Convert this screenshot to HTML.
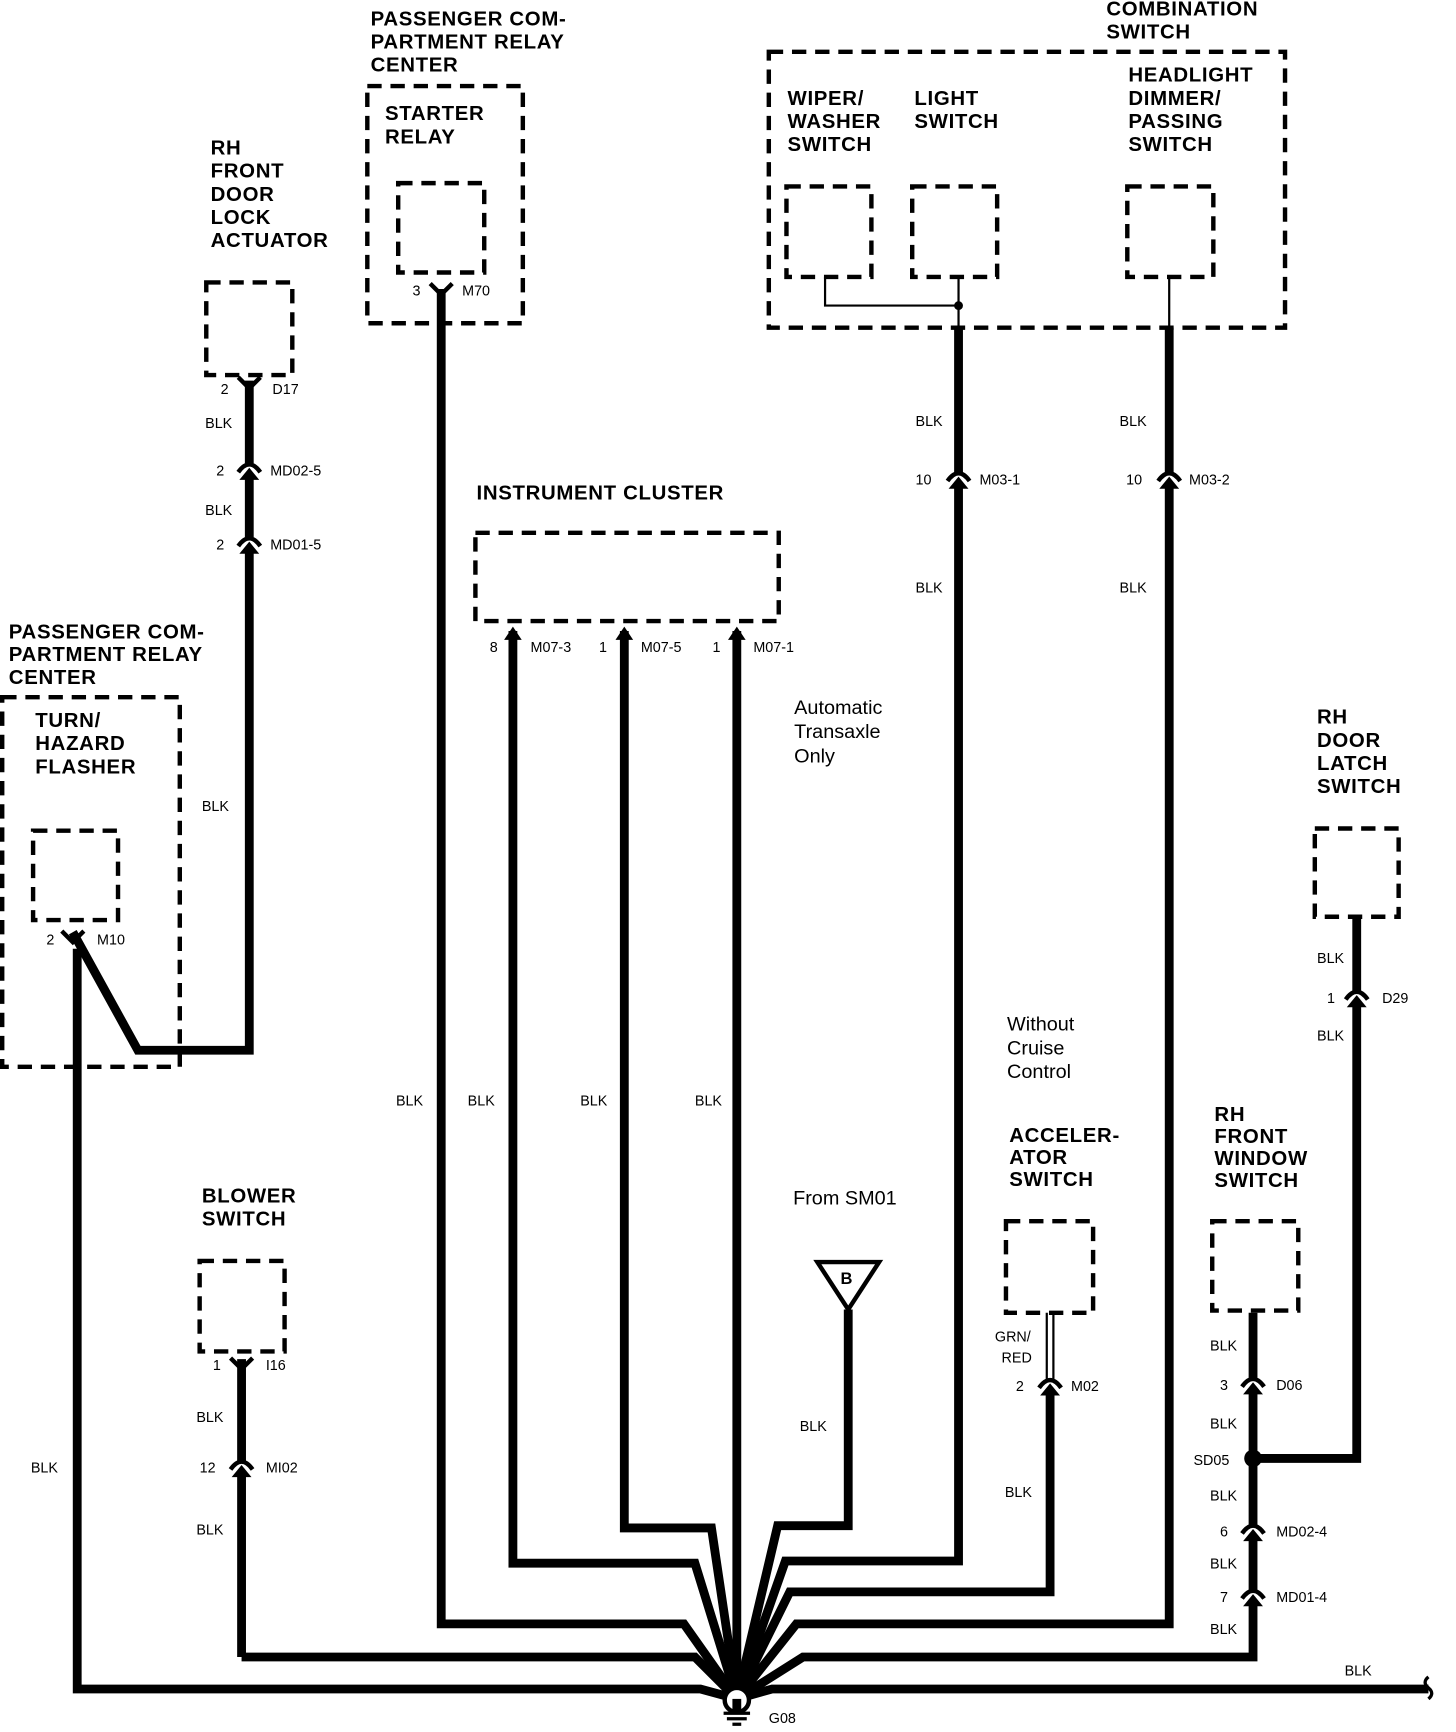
<!DOCTYPE html>
<html><head><meta charset="utf-8"><style>
html,body{margin:0;padding:0;background:#fff}
svg{display:block}
.t{font-family:"Liberation Sans",sans-serif;font-weight:bold;font-size:18.5px;letter-spacing:0.6px;fill:#000}
.s{font-family:"Liberation Sans",sans-serif;font-size:13px;fill:#000}
.n{font-family:"Liberation Sans",sans-serif;font-size:18px;fill:#000}
.box{fill:none;stroke:#000;stroke-width:4;stroke-dasharray:13 8}
.w{fill:none;stroke:#000;stroke-width:8;stroke-linejoin:miter}
</style></head><body>
<svg width="1456" height="1732" viewBox="0 0 1320 1570" preserveAspectRatio="none" xmlns="http://www.w3.org/2000/svg">
<defs>
<g id="c"><rect x="-7" y="-6" width="14" height="10" fill="#fff"/><path d="M-10 2 Q0 -12 10 2" stroke="#000" stroke-width="4" fill="none"/><polygon points="-9,9 0,-2 9,9" fill="#000"/></g>
<g id="f"><path d="M-10 -8 L0 2 L10 -8" stroke="#000" stroke-width="4" fill="none"/></g>
<g id="m"><polygon points="-8,10 0,-2 8,10" fill="#000"/></g>
</defs>
<path class="w" d="M226 345 V952 H125 L66 845"/>
<path class="w" d="M70 860 V1531 H635 L668 1540 L700 1531 H1295"/>
<path class="w" d="M219 1502 V1232 M219 1502 H630 L668 1540"/>
<path class="w" d="M400 262 V1472 H620 L668 1540"/>
<path class="w" d="M465 572 V1417 H630 L668 1540"/>
<path class="w" d="M566 572 V1385 H645 L668 1540"/>
<path class="w" d="M668 572 V1540"/>
<path class="w" d="M769 1187 V1383 H705 L668 1540"/>
<path class="w" d="M869 297 V1415 H712 L668 1540"/>
<path class="w" d="M952 1262 V1443 H716 L668 1540"/>
<path class="w" d="M1060 297 V1472 H722 L668 1540"/>
<path class="w" d="M1136 1190 V1502 H728 L668 1540"/>
<path class="w" d="M1230 831 V1322 H1136"/>
<path d="M1295 1520 q-6 5 0 10 q6 5 0 10" stroke="#000" stroke-width="3" fill="none"/>
<path d="M949 1190 V1250 M955 1190 V1250" stroke="#000" stroke-width="2"/>
<circle cx="1136" cy="1322" r="8" fill="#000"/>
<circle cx="668" cy="1541" r="11" fill="#fff" stroke="#000" stroke-width="4"/>
<rect x="664" y="1540" width="8" height="12" fill="#000"/>
<path d="M656 1553 H680 M659 1558 H677 M664 1563 H672" stroke="#000" stroke-width="3"/>
<text class="s" x="697" y="1562">G08</text>
<rect class="box" x="187" y="256" width="78" height="84"/>
<rect class="box" x="333" y="78" width="141" height="215"/>
<rect class="box" x="361" y="166" width="78" height="81"/>
<rect class="box" x="697" y="47" width="468" height="250"/>
<rect class="box" x="713" y="169" width="77" height="82"/>
<rect class="box" x="827" y="169" width="77" height="82"/>
<rect class="box" x="1022" y="169" width="78" height="82"/>
<path d="M748 251 V277 H869 M869 251 V297 M1060 251 V297" stroke="#000" stroke-width="2" fill="none"/>
<circle cx="869" cy="277" r="4" fill="#000"/>
<rect class="box" x="431" y="483" width="275" height="80"/>
<rect class="box" x="2" y="632" width="161" height="335"/>
<rect class="box" x="30" y="753" width="77" height="81"/>
<rect class="box" x="1192" y="751" width="76" height="80"/>
<rect class="box" x="912" y="1107" width="79" height="83"/>
<rect class="box" x="1099" y="1107" width="78" height="81"/>
<rect class="box" x="181" y="1143" width="77" height="82"/>
<polygon points="741,1144 797,1144 769,1187" fill="#fff" stroke="#000" stroke-width="4"/>
<text class="t" x="762" y="1164" style="font-size:15px">B</text>
<use href="#f" x="226" y="350"/><use href="#c" x="226" y="426"/><use href="#c" x="226" y="493"/>
<use href="#f" x="400" y="265"/><use href="#f" x="66" y="852"/>
<use href="#m" x="465" y="570"/><use href="#m" x="566" y="570"/><use href="#m" x="668" y="570"/>
<use href="#c" x="869" y="434"/><use href="#c" x="1060" y="434"/>
<use href="#c" x="1230" y="904"/><use href="#c" x="952" y="1256"/><use href="#c" x="1136" y="1255"/>
<use href="#c" x="1136" y="1388"/><use href="#c" x="1136" y="1447"/><use href="#c" x="219" y="1330"/>
<use href="#f" x="219" y="1239"/>
<text class="t" x="336" y="23">PASSENGER COM-</text><text class="t" x="336" y="44">PARTMENT RELAY</text><text class="t" x="336" y="65">CENTER</text>
<text class="t" x="349" y="109">STARTER</text><text class="t" x="349" y="130">RELAY</text>
<text class="t" x="191" y="140">RH</text><text class="t" x="191" y="161">FRONT</text><text class="t" x="191" y="182">DOOR</text><text class="t" x="191" y="203">LOCK</text><text class="t" x="191" y="224">ACTUATOR</text>
<text class="t" x="1003" y="14">COMBINATION</text><text class="t" x="1003" y="35">SWITCH</text>
<text class="t" x="714" y="95">WIPER/</text><text class="t" x="714" y="116">WASHER</text><text class="t" x="714" y="137">SWITCH</text>
<text class="t" x="829" y="95">LIGHT</text><text class="t" x="829" y="116">SWITCH</text>
<text class="t" x="1023" y="74">HEADLIGHT</text><text class="t" x="1023" y="95">DIMMER/</text><text class="t" x="1023" y="116">PASSING</text><text class="t" x="1023" y="137">SWITCH</text>
<text class="t" x="432" y="453">INSTRUMENT CLUSTER</text>
<text class="t" x="8" y="579">PASSENGER COM-</text><text class="t" x="8" y="599">PARTMENT RELAY</text><text class="t" x="8" y="620">CENTER</text>
<text class="t" x="32" y="659">TURN/</text><text class="t" x="32" y="680">HAZARD</text><text class="t" x="32" y="701">FLASHER</text>
<text class="t" x="1194" y="656">RH</text><text class="t" x="1194" y="677">DOOR</text><text class="t" x="1194" y="698">LATCH</text><text class="t" x="1194" y="719">SWITCH</text>
<text class="t" x="915" y="1035">ACCELER-</text><text class="t" x="915" y="1055">ATOR</text><text class="t" x="915" y="1075">SWITCH</text>
<text class="t" x="1101" y="1016">RH</text><text class="t" x="1101" y="1036">FRONT</text><text class="t" x="1101" y="1056">WINDOW</text><text class="t" x="1101" y="1076">SWITCH</text>
<text class="t" x="183" y="1090">BLOWER</text><text class="t" x="183" y="1111">SWITCH</text>
<text class="n" x="720" y="647">Automatic</text><text class="n" x="720" y="669">Transaxle</text><text class="n" x="720" y="691">Only</text>
<text class="n" x="913" y="934">Without</text><text class="n" x="913" y="956">Cruise</text><text class="n" x="913" y="977">Control</text>
<text class="n" x="719" y="1092">From SM01</text>
<g class="s">
<text x="200" y="357">2</text><text x="247" y="357">D17</text><text x="186" y="388">BLK</text>
<text x="196" y="431">2</text><text x="245" y="431">MD02-5</text><text x="186" y="467">BLK</text>
<text x="196" y="498">2</text><text x="245" y="498">MD01-5</text>
<text x="374" y="268">3</text><text x="419" y="268">M70</text>
<text x="830" y="386">BLK</text><text x="830" y="439">10</text><text x="888" y="439">M03-1</text><text x="830" y="537">BLK</text>
<text x="1015" y="386">BLK</text><text x="1021" y="439">10</text><text x="1078" y="439">M03-2</text><text x="1015" y="537">BLK</text>
<text x="444" y="591">8</text><text x="481" y="591">M07-3</text><text x="543" y="591">1</text><text x="581" y="591">M07-5</text><text x="646" y="591">1</text><text x="683" y="591">M07-1</text>
<text x="183" y="735">BLK</text><text x="42" y="856">2</text><text x="88" y="856">M10</text>
<text x="359" y="1002">BLK</text><text x="424" y="1002">BLK</text><text x="526" y="1002">BLK</text><text x="630" y="1002">BLK</text>
<text x="1194" y="873">BLK</text><text x="1203" y="909">1</text><text x="1253" y="909">D29</text><text x="1194" y="943">BLK</text>
<text x="902" y="1216">GRN/</text><text x="908" y="1235">RED</text><text x="921" y="1261">2</text><text x="971" y="1261">M02</text><text x="911" y="1357">BLK</text>
<text x="1097" y="1224">BLK</text><text x="1106" y="1260">3</text><text x="1157" y="1260">D06</text><text x="1097" y="1295">BLK</text>
<text x="1082" y="1328">SD05</text><text x="1097" y="1360">BLK</text><text x="1106" y="1393">6</text><text x="1157" y="1393">MD02-4</text>
<text x="1097" y="1422">BLK</text><text x="1106" y="1452">7</text><text x="1157" y="1452">MD01-4</text><text x="1097" y="1481">BLK</text>
<text x="1219" y="1519">BLK</text>
<text x="193" y="1242">1</text><text x="241" y="1242">I16</text><text x="178" y="1289">BLK</text><text x="181" y="1335">12</text><text x="241" y="1335">MI02</text><text x="178" y="1391">BLK</text>
<text x="28" y="1335">BLK</text><text x="725" y="1297">BLK</text>
</g>
</svg>
</body></html>
